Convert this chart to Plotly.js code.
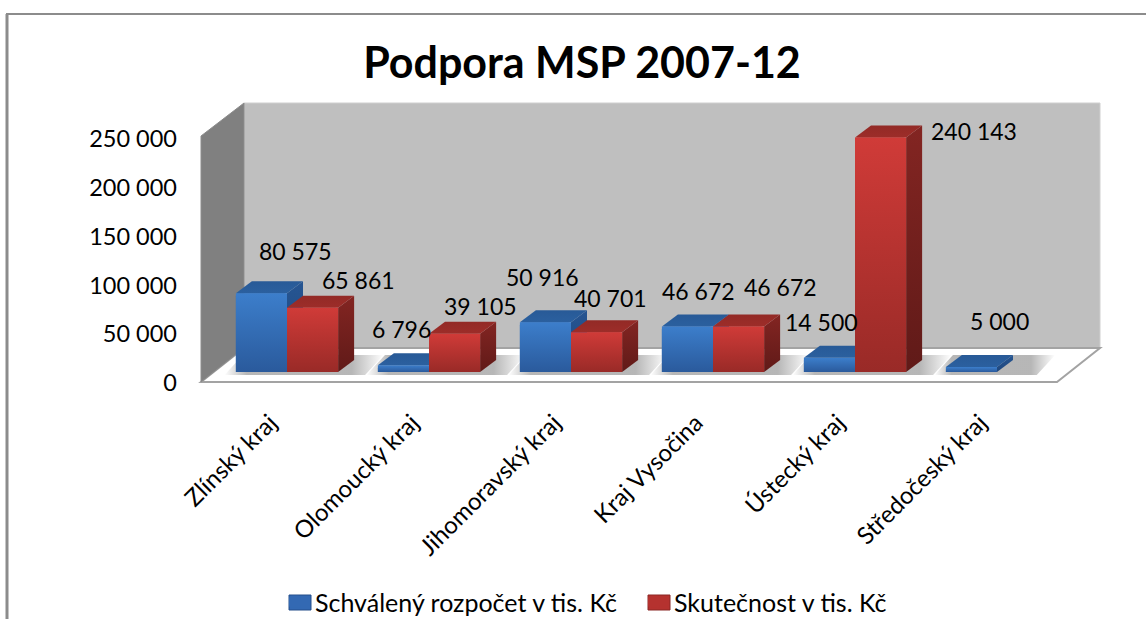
<!DOCTYPE html>
<html>
<head>
<meta charset="utf-8">
<script src="https://cdn.plot.ly/plotly-3.0.1.min.js"></script>
<style>html,body{margin:0;padding:0;background:#fff;overflow:hidden}</style>
</head>
<body>
<div id="chart" style="width:1146px;height:619px"></div>
<script>
const categories = ["Zlínský kraj","Olomoucký kraj","Jihomoravský kraj","Kraj Vysočina","Ústecký kraj","Středočeský kraj"];
const schvaleny = [80575, 6796, 50916, 46672, 14500, 5000];
const skutecnost = [65861, 39105, 40701, 46672, 240143, null];
const yTicks = [0, 50000, 100000, 150000, 200000, 250000];
const seriesNames = ["Schválený rozpočet v tis. Kč", "Skutečnost v tis. Kč"];
const titleText = "Podpora MSP 2007-12";

// label nudges in pixels from the bar's top centre
const shiftsBlue = [[34.5,42],[-1.5,36],[-2.5,45],[11.5,35],[-7.5,36],[28.5,46]];
const shiftsRed = [[45.5,28],[25.5,28],[13.5,34],[41.5,39],[93.5,7],[0,0]];

const W = 1146, H = 619;
const FONT = "Lato, Carlito, sans-serif";
const catPx = 142, yPx = 244 / 250000;
const baseY = 372, plotL = 216, plotR = 1068, plotB = 384, plotT = 96;
const barW = 0.36;
const depthX = 16 / catPx, depthY = 12 / yPx;
const px = x => x / W, py = y => 1 - y / H;
const poly = pts => "M" + pts.map(p => px(p[0]) + "," + py(p[1])).join(" L") + " Z";

function face(xs, ys, stops) {
  return {
    type: "scatter", mode: "lines", x: xs.concat(xs[0]), y: ys.concat(ys[0]),
    fill: "toself", line: {width: 0}, showlegend: false, hoverinfo: "skip",
    fillgradient: {type: "vertical", colorscale: stops}
  };
}

const palette = [
  {front: [[0, "#2a5a9c"], [1, "#3c7ecb"]], top: [[0, "#2b609f"], [1, "#285a97"]], side: [[0, "#1f477d"], [1, "#265592"]], base: "#3369b3"},
  {front: [[0, "#992a27"], [1, "#d03b38"]], top: [[0, "#9d2d29"], [1, "#932a26"]], side: [[0, "#601a18"], [1, "#832522"]], base: "#b5322f"}
];

const traces = [];
const annotations = [];

// floor shadows
categories.forEach((c, i) => {
  const noRed = skutecnost[i] === null;
  const l = -0.44, r = noRed ? 0.28 : 0.55;
  const bottom = -3 / yPx, top = 17 / yPx;
  traces.push({
    type: "scatter", mode: "lines",
    x: [i + l, i + l + 0.13, i + r + 0.13, i + r, i + l],
    y: [bottom, top, top, bottom, bottom],
    fill: "toself", line: {width: 0}, showlegend: false, hoverinfo: "skip",
    fillgradient: {type: "horizontal", colorscale: [
      [0, "rgba(170,170,170,0)"], [0.14, "rgba(170,170,170,0.85)"],
      [0.8, "rgba(170,170,170,0.85)"], [1, "rgba(170,170,170,0)"]]}
  });
});

// real bars
[schvaleny, skutecnost].forEach((vals, s) => {
  traces.push({
    type: "bar", name: seriesNames[s], x: categories.map((c, i) => i), y: vals,
    marker: {color: palette[s].base, line: {width: 0}},
    hovertemplate: "%{y}<extra>" + seriesNames[s] + "</extra>"
  });
});

// 3D faces, computed from the same values
[schvaleny, skutecnost].forEach((vals, s) => {
  const offs = s === 0 ? -barW : 0;
  vals.forEach((v, i) => {
    if (v === null) return;
    const x0 = i + offs, x1 = x0 + barW;
    traces.push(face([x1, x1 + depthX, x1 + depthX, x1], [0, depthY, v + depthY, v], palette[s].side));
    traces.push(face([x0, x1, x1 + depthX, x0 + depthX], [v, v, v + depthY, v + depthY], palette[s].top));
    traces.push(face([x0, x1, x1, x0], [0, 0, v, v], palette[s].front));
    const sh = (s === 0 ? shiftsBlue : shiftsRed)[i];
    annotations.push({
      x: x0 + barW / 2, y: v, xref: "x", yref: "y", showarrow: false,
      text: String(v).replace(/\B(?=(\d{3})+$)/g, " "),
      xshift: sh[0], yshift: sh[1], xanchor: "center", yanchor: "middle",
      font: {family: FONT, size: 23, color: "#000"}
    });
  });
});

const shapes = [
  {type: "path", xref: "paper", yref: "paper", layer: "below", path: poly([[244,103],[1100,103],[1100,348],[244,348]]), fillcolor: "#bfbfbf", line: {color: "#cfcfcf", width: 1}},
  {type: "path", xref: "paper", yref: "paper", layer: "below", path: poly([[201,382],[244,348],[1100,348],[1057,382]]), fillcolor: "#ffffff", line: {color: "#a3a3a3", width: 2}},
  {type: "path", xref: "paper", yref: "paper", layer: "below", path: poly([[201,136],[244,103],[244,348],[201,382]]), fillcolor: "#808080", line: {color: "#8c8c8c", width: 1}},
  {type: "line", xref: "paper", yref: "paper", x0: px(7), x1: px(7), y0: py(14), y1: py(619), line: {color: "#8c8c8c", width: 3}},
  {type: "line", xref: "paper", yref: "paper", x0: px(6), x1: px(1146), y0: py(14), y1: py(14), line: {color: "#8c8c8c", width: 2}},
  {type: "rect", xref: "paper", yref: "paper", x0: px(289), x1: px(311), y0: py(595), y1: py(610), fillcolor: palette[0].base, line: {color: "#254f8a", width: 1}},
  {type: "rect", xref: "paper", yref: "paper", x0: px(648), x1: px(670), y0: py(595), y1: py(610), fillcolor: palette[1].base, line: {color: "#8a2624", width: 1}}
];

const layout = {
  width: W, height: H, autosize: false,
  margin: {l: 0, r: 0, t: 0, b: 0, autoexpand: false},
  paper_bgcolor: "#ffffff", plot_bgcolor: "rgba(0,0,0,0)",
  separators: ". ",
  font: {family: FONT, color: "#000", size: 24},
  title: {text: titleText, automargin: false, x: 582 / W, y: py(63), xanchor: "center", yanchor: "middle", xref: "paper", yref: "paper",
          font: {family: FONT, size: 43, weight: 700, color: "#000"}},
  barmode: "group", bargap: 0.28, bargroupgap: 0, barcornerradius: 3,
  xaxis: {
    domain: [px(plotL), px(plotR)], range: [-0.5, 5.5], type: "linear", automargin: false,
    tickmode: "array", tickvals: categories.map((c, i) => i), ticktext: categories,
    tickangle: -45, showgrid: false, zeroline: false, showline: false, ticks: "",
    ticklabelstandoff: 19, ticklabelshift: -17, tickfont: {family: FONT, size: 24}
  },
  yaxis: {
    domain: [py(plotB), py(plotT)], range: [(baseY - plotB) / yPx, (baseY - plotT) / yPx], automargin: false,
    tickmode: "array", tickvals: yTicks, tickformat: ",d",
    showgrid: false, zeroline: false, showline: false, ticks: "",
    ticklabelstandoff: 38, ticklabelshift: 11, tickfont: {family: FONT, size: 23.5}
  },
  legend: {
    orientation: "h", x: 275 / W, y: py(602), xanchor: "left", yanchor: "middle", entrywidth: 314, entrywidthmode: "pixels",
    font: {family: FONT, size: 25}, bgcolor: "rgba(0,0,0,0)", traceorder: "normal",
    itemclick: false, itemdoubleclick: false
  },
  shapes, annotations
};

Plotly.newPlot("chart", traces, layout, {displayModeBar: false, responsive: false});
</script>
</body>
</html>
